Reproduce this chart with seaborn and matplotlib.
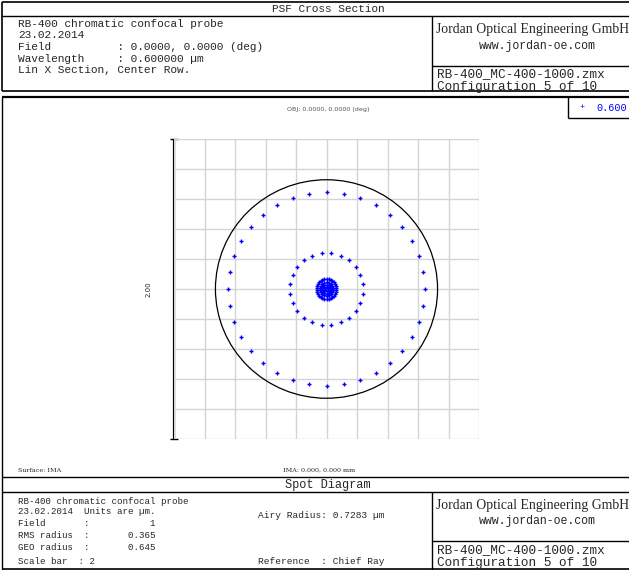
import numpy as np
import pandas as pd
import matplotlib
matplotlib.use("Agg")
import matplotlib.pyplot as plt
import seaborn as sns
from matplotlib.patches import Circle

# spot rings (radius in um, number of rays, angle offset in deg)
ring_radius = [0.015, 0.03, 0.045, 0.065, 0.24, 0.645]
ring_count = [6, 12, 18, 30, 24, 36]
ring_offset = [0, 0, 0, 0, 7.5, 0]
airy_radius = 0.7283
scale_bar = 2.0
wavelength = "0.600"

rows = []
for r, n, off in zip(ring_radius, ring_count, ring_offset):
    ang = np.deg2rad(90 + off + np.arange(n) * 360.0 / n)
    for a in ang:
        rows.append((r * np.cos(a), r * np.sin(a)))
df = pd.DataFrame(rows, columns=["x", "y"])

sns.set_style("white")
plt.rcParams["font.family"] = ["Liberation Mono", "DejaVu Sans"]

W, H = 629, 570
fig = plt.figure(figsize=(W / 100, H / 100), dpi=100)

# overlay in pixel coordinates for the frames and report text
ov = fig.add_axes([0, 0, 1, 1])
ov.set_xlim(0, W)
ov.set_ylim(H, 0)
ov.axis("off")

def hl(y, x0, x1, lw=1.0):
    ov.plot([x0, x1], [y, y], color="black", lw=lw, solid_capstyle="butt")

def vl(x, y0, y1, lw=1.0):
    ov.plot([x, x], [y0, y1], color="black", lw=lw, solid_capstyle="butt")

logo = dict(fontsize=9.9, family="Liberation Serif", fontstretch="condensed")

# top header box
hl(2, 2, W, 1.2)
hl(16, 2, W)
hl(91, 2, W, 1.2)
vl(2, 2, 91, 1.2)
vl(432, 16, 91)
hl(66, 432, W)
ov.text(328, 9.5, "PSF Cross Section", ha="center", va="center", fontsize=8)
left_lines = ["RB-400 chromatic confocal probe", "23.02.2014",
              "Field          : 0.0000, 0.0000 (deg)",
              "Wavelength     : 0.600000 \u00b5m",
              "Lin X Section, Center Row."]
for t, y in zip(left_lines, [24, 35, 47, 59, 70]):
    ov.text(18, y, t, ha="left", va="center", fontsize=8)
ov.text(436, 29, "Jordan Optical Engineering GmbH", ha="left", va="center", **logo)
ov.text(537, 46, "www.jordan-oe.com", ha="center", va="center", fontsize=8.3)
ov.text(437, 74, "RB-400_MC-400-1000.zmx", ha="left", va="center", fontsize=9.2)
ov.text(437, 87, "Configuration 5 of 10", ha="left", va="center", fontsize=9.2)

# plot panel frame
hl(97, 2, W, 1.6)
vl(2, 97, H)
vl(568, 97, 118)
hl(118, 568, W)
ov.text(582, 108, "+", color="blue", ha="center", va="center", fontsize=6)
ov.text(596, 108, wavelength, color="blue", ha="left", va="center", fontsize=7.3)
ov.text(328, 109, "OBJ: 0.0000, 0.0000 (deg)", color="#555555", ha="center",
        va="center", fontsize=4.6, family="DejaVu Sans")
ov.text(18, 470, "Surface: IMA", ha="left", va="center", fontsize=4.6, family="DejaVu Serif")
ov.text(283, 470, "IMA: 0.000, 0.000 mm", ha="left", va="center", fontsize=4.6,
        family="DejaVu Serif")

# bottom report box
hl(477, 2, W)
hl(492, 2, W)
hl(569, 2, W, 1.2)
vl(432, 492, H)
hl(541, 432, W)
ov.text(328, 485, "Spot Diagram", ha="center", va="center", fontsize=8.6)
bl = ["RB-400 chromatic confocal probe", "23.02.2014  Units are \u00b5m.",
      "Field       :           1", "RMS radius  :       0.365",
      "GEO radius  :       0.645", "Scale bar  : 2"]
for t, y in zip(bl, [502, 511, 523, 536, 548, 562]):
    ov.text(18, y, t, ha="left", va="center", fontsize=6.6, family="Liberation Mono")
ov.text(258, 515, "Airy Radius: 0.7283 \u00b5m", ha="left", va="center", fontsize=6.8)
ov.text(258, 562, "Reference  : Chief Ray", ha="left", va="center", fontsize=6.8)
ov.text(436, 505, "Jordan Optical Engineering GmbH", ha="left", va="center", **logo)
ov.text(537, 521, "www.jordan-oe.com", ha="center", va="center", fontsize=8.3)
ov.text(437, 550, "RB-400_MC-400-1000.zmx", ha="left", va="center", fontsize=9.2)
ov.text(437, 563, "Configuration 5 of 10", ha="left", va="center", fontsize=9.2)

# scale bar
vl(174, 139, 439, 1.6)
hl(139, 170, 178)
hl(439, 170, 178)
ov.text(149, 289, "%.2f" % scale_bar, rotation=90, ha="center", va="center",
        fontsize=5, family="DejaVu Sans")

# spot diagram axes: +/- 1 um over the grid
ax = fig.add_axes([174 / W, (H - 439) / H, 305 / W, 300 / H])
ax.patch.set_alpha(0)
half = scale_bar / 2
ticks = np.linspace(-half, half, 11)
for t in ticks:
    ax.axvline(t, color="#d4d4d4", lw=1, zorder=0)
    ax.axhline(t, color="#d4d4d4", lw=1, zorder=0)
ax.add_patch(Circle((0, 0), airy_radius, fill=False, edgecolor="black", lw=0.9, zorder=2))
sns.scatterplot(data=df, x="x", y="y", ax=ax, marker="+", color="blue", s=10,
                linewidth=1, zorder=3, legend=False)
ax.set_xlim(-half, half)
ax.set_ylim(-half, half)
ax.set_xticks([])
ax.set_yticks([])
ax.set_xlabel("")
ax.set_ylabel("")
for sp in ax.spines.values():
    sp.set_visible(False)

fig.savefig("out.png", dpi=100)
